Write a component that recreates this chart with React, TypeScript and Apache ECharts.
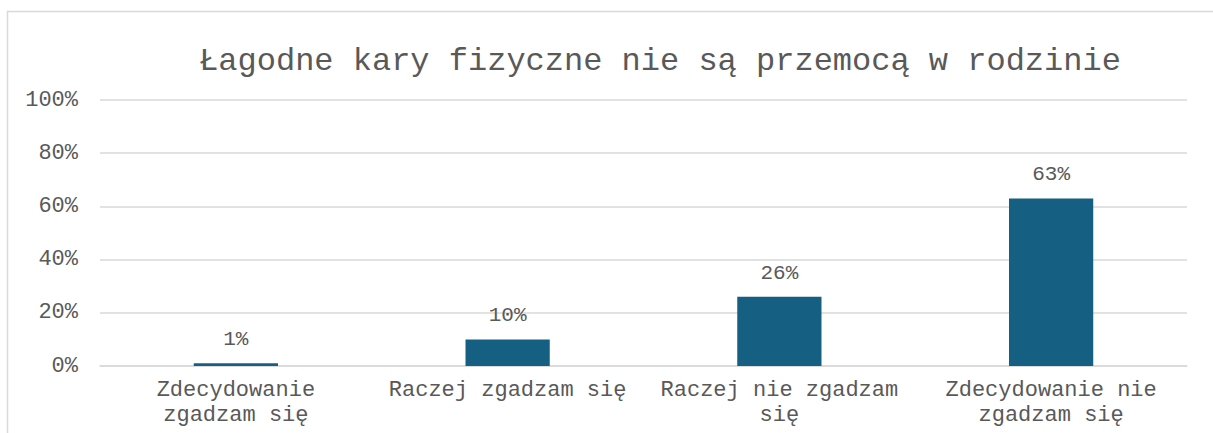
import React, { useEffect, useRef } from "react";
import * as echarts from "echarts";

const titleText = "Łagodne kary fizyczne nie są przemocą w rodzinie";
const categories = [
  "Zdecydowanie\nzgadzam się",
  "Raczej zgadzam się",
  "Raczej nie zgadzam\nsię",
  "Zdecydowanie nie\nzgadzam się",
];
const values = [1, 10, 26, 63];
const yTicks = { min: 0, max: 100, interval: 20 };

const FONT = "'Liberation Mono', 'Courier New', monospace";
const TEXT = "#595959";

export default function App() {
  const ref = useRef<HTMLDivElement>(null);
  useEffect(() => {
    document.body.style.margin = "0";
    const chart = echarts.init(ref.current!, null, { renderer: "svg" });
    chart.setOption({
      animation: false,
      backgroundColor: "#ffffff",
      title: {
        text: titleText,
        left: 655,
        top: 40,
        textAlign: "center",
        textStyle: { fontFamily: FONT, fontSize: 32, fontWeight: "normal", color: TEXT },
      },
      graphic: [
        {
          type: "rect",
          shape: { x: 7.5, y: 11.5, width: 1230, height: 500 },
          style: { fill: "none", stroke: "#d9d9d9", lineWidth: 1.5 },
          silent: true,
        },
      ],
      grid: { left: 100, right: 26, top: 100, bottom: 67, containLabel: false },
      xAxis: {
        type: "category",
        data: categories,
        axisLine: { show: true, lineStyle: { color: "#d9d9d9", width: 1.5 } },
        axisTick: { show: false },
        axisLabel: {
          interval: 0,
          fontFamily: FONT,
          fontSize: 22,
          color: TEXT,
          lineHeight: 25,
          margin: 12,
        },
      },
      yAxis: {
        type: "value",
        min: yTicks.min,
        max: yTicks.max,
        interval: yTicks.interval,
        axisLine: { show: false },
        axisTick: { show: false },
        splitLine: { lineStyle: { color: "#d9d9d9", width: 1.5 } },
        axisLabel: {
          formatter: "{value}%",
          fontFamily: FONT,
          fontSize: 22,
          color: TEXT,
          margin: 22,
        },
      },
      series: [
        {
          type: "bar",
          data: values,
          barWidth: "31%",
          itemStyle: { color: "#156082" },
          label: {
            show: true,
            position: "top",
            distance: 13,
            formatter: "{c}%",
            fontFamily: FONT,
            fontSize: 21,
            color: TEXT,
          },
        },
      ],
    });
    return () => chart.dispose();
  }, []);
  return <div ref={ref} style={{ width: 1213, height: 433 }} />;
}
